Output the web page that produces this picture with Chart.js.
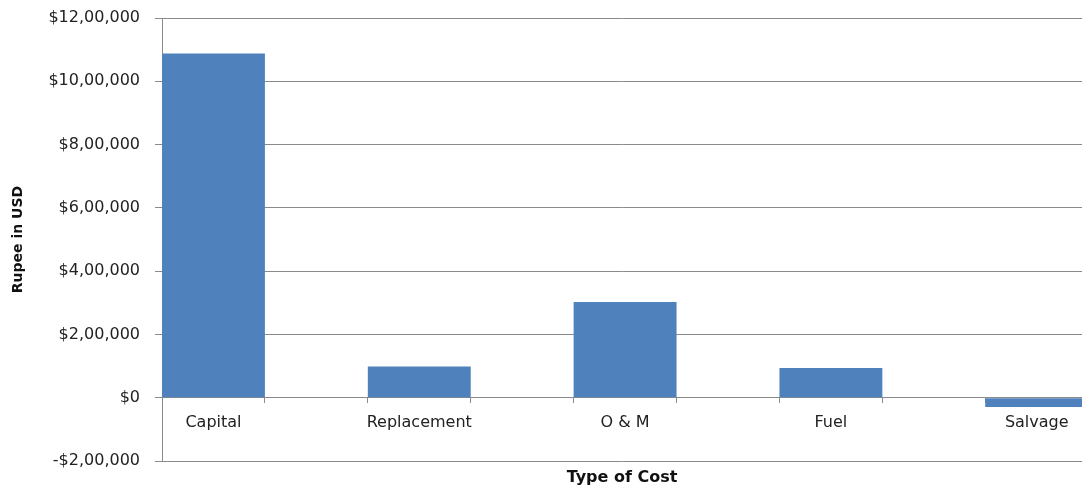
<!DOCTYPE html>
<html>
<head>
<meta charset="utf-8">
<script src="https://cdn.jsdelivr.net/npm/chart.js@4"></script>
<style>
  html, body { margin: 0; padding: 0; background: #fff; overflow: hidden; }
  #wrap { width: 1082px; height: 490px; }
</style>
</head>
<body>
<div id="wrap"><canvas id="costChart"></canvas></div>
<script>
const categories = ['Capital', 'Replacement', 'O & M', 'Fuel', 'Salvage'];
const costValues = [1088000, 99000, 302500, 93700, -29700];
const yTicks = [-200000, 0, 200000, 400000, 600000, 800000, 1000000, 1200000];

// indian style grouping: $12,00,000
function inr(v) {
    const neg = v < 0;
    let s = String(Math.abs(v));
    if (s.length > 3) {
        const last = s.slice(-3);
        const rest = s.slice(0, -3).replace(/\B(?=(\d{2})+(?!\d))/g, ',');
        s = rest + ',' + last;
    }
    return (neg ? '-' : '') + '$' + s;
}

const gridColor = '#8a8a8a';
const xRange = { min: -0.25, max: 4.22 };

const ctx = document.getElementById('costChart');
const costChart = new Chart(ctx, {
    type: 'bar',
    data: {
        datasets: [{
            label: 'Cost',
            data: categories.map((c, i) => ({ x: i, y: costValues[i] })),
            backgroundColor: '#4f81bd',
            borderWidth: 0,
            categoryPercentage: 0.5,
            barPercentage: 1,
        }]
    },
    options: {
        responsive: true,
        maintainAspectRatio: false,
        animation: false,
        layout: { padding: { top: 18, right: 0, bottom: 0, left: 0 } },
        plugins: {
            legend: { display: false },
            tooltip: { enabled: false }
        },
        scales: {
            x: {
                type: 'linear',
                position: 'bottom',
                offset: false,
                min: xRange.min,
                max: xRange.max,
                afterBuildTicks: s => { s.ticks = categories.map((c, i) => ({ value: i })); },
                ticks: { display: false },
                grid: { display: false, offset: false },
                border: { display: false },
                title: {
                    display: true,
                    text: 'Type of Cost',
                    color: '#111',
                    font: { family: 'DejaVu Sans', size: 16, weight: 'bold' },
                    padding: { top: 0, bottom: 3 }
                },
                afterFit: s => { s.height = 29; s.paddingLeft = 0; s.paddingRight = 0; }
            },
            xLabels: {
                type: 'linear',
                position: { y: 0 },
                offset: false,
                min: xRange.min,
                max: xRange.max,
                afterBuildTicks: s => { s.ticks = categories.map((c, i) => ({ value: i })); },
                ticks: {
                    padding: 16,
                    color: '#222',
                    maxRotation: 0,
                    autoSkip: false,
                    font: { family: 'DejaVu Sans', size: 16 },
                    callback: v => categories[v]
                },
                grid: { display: false, drawTicks: false, offset: false },
                border: { display: false },
                afterFit: s => { s.height = 0; s.paddingLeft = 0; s.paddingRight = 0; }
            },
            xMarks: {
                type: 'linear',
                position: { y: 0 },
                offset: false,
                min: xRange.min,
                max: xRange.max,
                afterBuildTicks: s => {
                    s.ticks = categories.flatMap((c, i) => [{ value: i - 0.25 }, { value: i + 0.25 }]);
                },
                ticks: { display: false },
                grid: { drawOnChartArea: false, offset: false, color: gridColor, tickLength: 5 },
                border: { display: true, color: gridColor },
                afterFit: s => { s.height = 0; s.paddingLeft = 0; s.paddingRight = 0; }
            },
            y: {
                min: -200000,
                max: 1200000,
                afterBuildTicks: s => { s.ticks = yTicks.map(v => ({ value: v })); },
                ticks: {
                    padding: 15,
                    color: '#222',
                    font: { family: 'DejaVu Sans', size: 16 },
                    callback: v => inr(v)
                },
                grid: { color: gridColor, tickLength: 7 },
                border: { display: true, color: gridColor },
                title: {
                    display: true,
                    text: 'Rupee in USD',
                    color: '#111',
                    font: { family: 'DejaVu Sans', size: 14, weight: 'bold' },
                    padding: { top: 10, bottom: 0 }
                },
                afterFit: s => { s.width = 162; s.paddingTop = 0; s.paddingBottom = 0; }
            }
        }
    }
});
</script>
</body>
</html>
